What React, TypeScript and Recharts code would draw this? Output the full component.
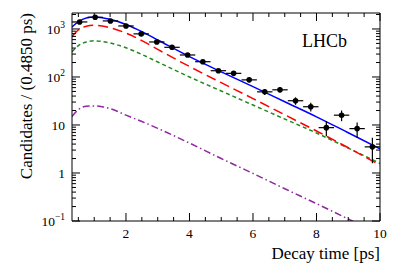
import React from 'react';
import { ComposedChart, Line, Scatter, ErrorBar, XAxis, YAxis } from 'recharts';

// measured decay time histogram (bin width 0.485 ps)
const binCenters = [0.54, 1.03, 1.51, 2.0, 2.48, 2.97, 3.45, 3.94, 4.42, 4.91, 5.39, 5.88, 6.37, 6.85, 7.34, 7.82, 8.31, 8.79, 9.28, 9.76];
const counts = [1400, 1750, 1470, 1155, 790, 536, 415, 287, 208, 135, 119, 87, 49, 54, 32, 24, 8.8, 16, 8.4, 3.5];
const countErrors = [37, 42, 38, 34, 28, 23, 20, 17, 14, 12, 11, 9.3, 7, 7.3, 5.7, 4.9, 3, 4, 2.9, 1.9];
const binHalfWidth = 0.2425;

// fit components
const curveTimes = [0.3, 0.5, 0.75, 1, 1.25, 1.5, 2, 2.5, 3, 4, 5, 6, 7, 8, 9, 10];
const totalFit = [1100, 1420, 1700, 1780, 1720, 1590, 1240, 880, 590, 265, 128, 63, 30.5, 14.8, 6.9, 3.2];
const signalFit = [690, 950, 1140, 1190, 1150, 1060, 820, 570, 375, 165, 76, 35.5, 16.3, 7.5, 3.35, 1.45];
const bkgFit = [336, 450, 535, 565, 550, 510, 405, 295, 205, 100, 51, 26, 13.3, 6.8, 3.3, 1.58];
const otherFit = [15, 21, 24.5, 25, 24, 22, 16, 11.8, 8.5, 4.2, 2.0, 0.98, 0.47, 0.23, 0.11, 0.052];

const xTicks = [0.5, 1, 1.5, 2, 2.5, 3, 3.5, 4, 4.5, 5, 5.5, 6, 6.5, 7, 7.5, 8, 8.5, 9, 9.5, 10];
const xMajor = [2, 4, 6, 8, 10];
const yTicks = [
  0.1, 0.2, 0.3, 0.4, 0.5, 0.6, 0.7, 0.8, 0.9,
  1, 2, 3, 4, 5, 6, 7, 8, 9,
  10, 20, 30, 40, 50, 60, 70, 80, 90,
  100, 200, 300, 400, 500, 600, 700, 800, 900,
  1000, 2000,
];
const yMajor = [0.1, 1, 10, 100, 1000];
const yLabels: Record<string, [string, string?]> = {
  '0.1': ['10', '\u22121'],
  '1': ['1'],
  '10': ['10'],
  '100': ['10', '2'],
  '1000': ['10', '3'],
};

const FONT = '"Liberation Serif", "DejaVu Serif", serif';

const points = binCenters.map((t, i) => ({ t, v: counts[i], ey: countErrors[i], ex: binHalfWidth }));
const curve = (vals: number[]) => curveTimes.map((t, i) => ({ t, v: vals[i] }));

const XTick = ({ x, y, payload, top }: any) => {
  const major = xMajor.includes(payload.value);
  const len = major ? 8 : 4;
  const dir = top ? 1 : -1;
  return (
    <g>
      <line x1={x} x2={x} y1={y} y2={y + dir * len} stroke="#000" />
      {!top && major && (
        <text x={x} y={y + 17} textAnchor="middle" fontSize={13.5} fontFamily={FONT} fill="#000">
          {payload.value}
        </text>
      )}
    </g>
  );
};

const YTick = ({ x, y, payload, right }: any) => {
  const major = yMajor.includes(payload.value);
  const len = major ? 8 : 4;
  const dir = right ? -1 : 1;
  const lab = yLabels[String(payload.value)];
  return (
    <g>
      <line x1={x} x2={x + dir * len} y1={y} y2={y} stroke="#000" />
      {!right && lab && (
        <text x={x - 7} y={y + 5} textAnchor="end" fontSize={13.5} fontFamily={FONT} fill="#000">
          {lab[0]}
          {lab[1] && (
            <tspan dy={-6} fontSize={9.5}>
              {lab[1]}
            </tspan>
          )}
        </text>
      )}
    </g>
  );
};

export default function App() {
  return (
    <div style={{ position: 'absolute', left: 0, top: 0, width: 399, height: 270, background: '#fff' }}>
      <ComposedChart width={399} height={270} margin={{ top: 12, right: 18, bottom: 0, left: 0 }}>
        <XAxis
          xAxisId="b"
          dataKey="t"
          type="number"
          domain={[0.3, 10]}
          allowDataOverflow
          ticks={xTicks}
          interval={0}
          height={49}
          tickSize={0}
          tickMargin={0}
          tickLine={false}
          axisLine={{ stroke: '#000' }}
          tick={(p: any) => <XTick {...p} />}
        />
        <XAxis
          xAxisId="top"
          orientation="top"
          dataKey="t"
          type="number"
          domain={[0.3, 10]}
          allowDataOverflow
          ticks={xTicks}
          interval={0}
          height={1}
          tickSize={0}
          tickMargin={0}
          tickLine={false}
          axisLine={{ stroke: '#000' }}
          tick={(p: any) => <XTick {...p} top />}
        />
        <YAxis
          yAxisId="l"
          scale="log"
          type="number"
          domain={[0.1, 2150]}
          allowDataOverflow
          ticks={yTicks}
          interval={0}
          width={72}
          tickSize={0}
          tickMargin={0}
          tickLine={false}
          axisLine={{ stroke: '#000' }}
          tick={(p: any) => <YTick {...p} />}
        />
        <YAxis
          yAxisId="r"
          orientation="right"
          scale="log"
          type="number"
          domain={[0.1, 2150]}
          allowDataOverflow
          ticks={yTicks}
          interval={0}
          width={1}
          tickSize={0}
          tickMargin={0}
          tickLine={false}
          axisLine={{ stroke: '#000' }}
          tick={(p: any) => <YTick {...p} right />}
        />
        {/* invisible series so the top and right frame axes are drawn */}
        <Line xAxisId="top" yAxisId="r" data={curve(totalFit)} dataKey="v" stroke="none" dot={false} activeDot={false} isAnimationActive={false} />
        <Line xAxisId="b" yAxisId="l" data={curve(otherFit)} dataKey="v" type="monotone" stroke="#8e2a9e" strokeWidth={1.5} strokeDasharray="7 3 1.5 3" dot={false} isAnimationActive={false} />
        <Line xAxisId="b" yAxisId="l" data={curve(bkgFit)} dataKey="v" type="monotone" stroke="#1f8a1f" strokeWidth={1.5} strokeDasharray="4 3" dot={false} isAnimationActive={false} />
        <Line xAxisId="b" yAxisId="l" data={curve(signalFit)} dataKey="v" type="monotone" stroke="#ff0000" strokeWidth={1.5} strokeDasharray="10 5" dot={false} isAnimationActive={false} />
        <Line xAxisId="b" yAxisId="l" data={curve(totalFit)} dataKey="v" type="monotone" stroke="#0000ff" strokeWidth={1.5} dot={false} isAnimationActive={false} />
        <Scatter
          xAxisId="b"
          yAxisId="l"
          data={points}
          dataKey="v"
          isAnimationActive={false}
          shape={(p: any) => <circle cx={p.cx} cy={p.cy} r={2.8} fill="#000" />}
        >
          <ErrorBar dataKey="ey" direction="y" width={0} stroke="#000" strokeWidth={1.2} />
          <ErrorBar dataKey="ex" direction="x" width={0} stroke="#000" strokeWidth={1.2} />
        </Scatter>
      </ComposedChart>
      <svg width={399} height={270} style={{ position: 'absolute', left: 0, top: 0, pointerEvents: 'none' }}>
        <text x={302} y={47} fontSize={18} fontFamily={FONT} fill="#000">LHCb</text>
        <text x={380} y={259} textAnchor="end" fontSize={17} fontFamily={FONT} fill="#000">Decay time [ps]</text>
        <text transform="translate(32,13) rotate(-90)" textAnchor="end" fontSize={17} fontFamily={FONT} fill="#000">
          Candidates / (0.4850 ps)
        </text>
      </svg>
    </div>
  );
}
